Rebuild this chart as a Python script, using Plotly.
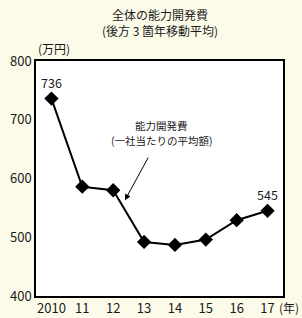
import plotly.graph_objects as go

years = ["2010", "11", "12", "13", "14", "15", "16", "17"]
values = [736, 586, 580, 492, 487, 496, 529, 545]
y_ticks = [400, 500, 600, 700, 800]

FONT = "Noto Sans CJK JP"
BG = "#FCFAE9"
TXT = "#1a1a1a"
xs = list(range(len(years)))

fig = go.Figure()
fig.add_trace(go.Scatter(
    x=xs, y=values, mode="lines+markers",
    line=dict(color="#000000", width=2),
    marker=dict(symbol="diamond", size=11, color="#000000"),
    hoverinfo="skip", showlegend=False,
))

# data labels for first and last
for i in (0, len(values) - 1):
    fig.add_annotation(x=xs[i], y=values[i], text=str(values[i]), showarrow=False,
                       yshift=16, font=dict(family=FONT, size=12.5, color=TXT))

# series label with arrow
fig.add_annotation(x=3.58, y=690, text="能力開発費", showarrow=False,
                   font=dict(family=FONT, size=10.5, color=TXT))
fig.add_annotation(x=3.58, y=665, text="(一社当たりの平均額)", showarrow=False,
                   font=dict(family=FONT, size=10.5, color=TXT))
fig.add_annotation(x=2.38, y=563, ax=3.16, ay=638, axref="x", ayref="y", xref="x", yref="y",
                   text="", showarrow=True, arrowhead=2, arrowsize=1.2, arrowwidth=1,
                   arrowcolor="#000")

# title
fig.add_annotation(xref="paper", yref="paper", x=(160 - 36) / 247, y=1, yanchor="middle",
                   yshift=39, text="全体の能力開発費<br>(後方 3 箇年移動平均)", showarrow=False,
                   font=dict(family=FONT, size=12, color=TXT), align="center")
# units
fig.add_annotation(xref="paper", yref="paper", x=0, y=1, xanchor="left", yanchor="middle",
                   yshift=13, text="(万円)", showarrow=False,
                   font=dict(family=FONT, size=12, color=TXT))
fig.add_annotation(xref="paper", yref="paper", x=1, y=0, xanchor="left", yanchor="middle",
                   yshift=-11, xshift=-6, text="(年)", showarrow=False,
                   font=dict(family=FONT, size=12, color=TXT))

fig.update_layout(
    width=302, height=318,
    margin=dict(l=36, r=19, t=61, b=22, autoexpand=False),
    paper_bgcolor=BG, plot_bgcolor="#FFFFFF",
    xaxis=dict(range=[-0.5, 7.5], tickvals=xs, ticktext=years, showgrid=False,
               zeroline=False, showline=True, linecolor="#000", linewidth=1.5, mirror=True,
               ticks="", automargin=False,
               tickfont=dict(family=FONT, size=13, color=TXT)),
    yaxis=dict(range=[400, 800], tickvals=y_ticks, showgrid=False, zeroline=False,
               showline=True, linecolor="#000", linewidth=1.5, mirror=True,
               ticks="", automargin=False,
               tickfont=dict(family=FONT, size=13, color=TXT)),
)

fig.write_html("out.html")
